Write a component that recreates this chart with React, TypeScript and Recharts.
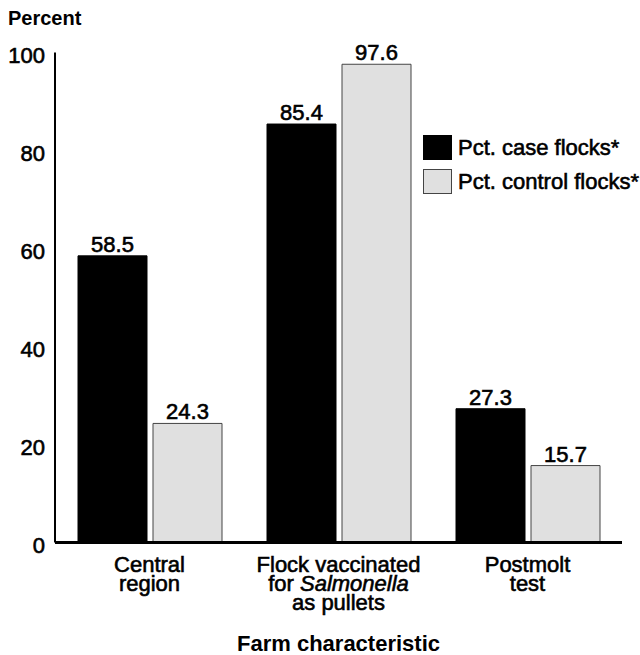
import React from 'react';
import { BarChart, Bar, XAxis, YAxis, LabelList, Label } from 'recharts';

const categories = ['Central region', 'Flock vaccinated for Salmonella as pullets', 'Postmolt test'];
const caseValues = [58.5, 85.4, 27.3];
const controlValues = [24.3, 97.6, 15.7];
const tickLines = [
  ['Central', 'region'],
  ['Flock vaccinated', 'for Salmonella', 'as pullets'],
  ['Postmolt', 'test'],
];
const italicWords = ['Salmonella'];
const yTicks = [0, 20, 40, 60, 80, 100];
const seriesNames = ['Pct. case flocks*', 'Pct. control flocks*'];
const yTitle = 'Percent';
const xTitle = 'Farm characteristic';

const data = categories.map((c, i) => ({
  category: c,
  caseFlocks: caseValues[i],
  controlFlocks: controlValues[i],
}));

const FONT = '"Liberation Sans", Arial, Helvetica, sans-serif';
const HEAVY = 0.6;

const seriesStyle = [
  { fill: '#000000', stroke: '#000000' },
  { fill: '#e0e0e0', stroke: '#444444' },
];

const renderLine = (line: string) => {
  const parts: React.ReactNode[] = [];
  const words = line.split(' ');
  words.forEach((w, i) => {
    if (italicWords.includes(w)) {
      if (i > 0) parts.push(<tspan key={'s' + i}> </tspan>);
      parts.push(
        <tspan key={i} fontStyle="italic">
          {w}
        </tspan>
      );
    } else {
      parts.push(<tspan key={i}>{(i > 0 ? ' ' : '') + w}</tspan>);
    }
  });
  return parts;
};

const XTick = (props: any) => {
  const { x, y, index } = props;
  const lines = tickLines[index] || [];
  return (
    <text textAnchor="middle" fontFamily={FONT} fontSize={22} fill="#000" stroke="#000" strokeWidth={HEAVY}>
      {lines.map((l, i) => (
        <tspan key={i} x={x} y={y + 29 + i * 19}>
          {renderLine(l)}
        </tspan>
      ))}
    </text>
  );
};

const YTick = (props: any) => {
  const { x, y, payload } = props;
  return (
    <text
      x={x}
      y={y + 3}
      dy="0.355em"
      textAnchor="end"
      fontFamily={FONT}
      fontSize={22}
      fill="#000"
      stroke="#000"
      strokeWidth={HEAVY}
    >
      {payload.value}
    </text>
  );
};

const ValueLabel = (props: any) => {
  const { x, y, width, value } = props;
  return (
    <text
      x={x + width / 2}
      y={y - 4}
      textAnchor="middle"
      fontFamily={FONT}
      fontSize={22}
      fill="#000"
      stroke="#000"
      strokeWidth={HEAVY}
    >
      {Number(value).toFixed(1)}
    </text>
  );
};

const LegendBox = () => (
  <div
    style={{
      position: 'absolute',
      left: 423,
      top: 135,
      fontFamily: FONT,
      fontSize: 22,
      color: '#000',
      WebkitTextStroke: `${HEAVY}px #000`,
    }}
  >
    {seriesNames.map((n, i) => (
      <div key={n} style={{ display: 'flex', alignItems: 'center', height: 25, marginBottom: 9, whiteSpace: 'nowrap' }}>
        <div
          style={{
            width: 27,
            height: 23,
            background: seriesStyle[i].fill,
            border: `1px solid ${seriesStyle[i].stroke}`,
            marginRight: 6,
            flex: '0 0 auto',
          }}
        />
        <span style={{ lineHeight: '25px' }}>{n}</span>
      </div>
    ))}
  </div>
);

const YTitle = () => (
  <text x={8} y={25} fontFamily={FONT} fontSize={20} fontWeight="bold" fill="#000">
    {yTitle}
  </text>
);

const XTitle = () => (
  <text x={338.5} y={651} textAnchor="middle" fontFamily={FONT} fontSize={22} fontWeight="bold" fill="#000">
    {xTitle}
  </text>
);

export default function App() {
  return (
    <div style={{ position: 'absolute', left: 0, top: 0, width: 640, height: 655, background: '#fff' }}>
      <BarChart
        width={640}
        height={655}
        data={data}
        margin={{ top: 52.5, right: 18, bottom: 0, left: 0 }}
        barSize={69}
        barGap={6}
      >
        <XAxis
          dataKey="category"
          height={112.5}
          axisLine={{ stroke: '#000', strokeWidth: 3 }}
          tickLine={false}
          tickSize={0}
          tickMargin={0}
          interval={0}
          tick={<XTick />}
        >
          <Label content={<XTitle />} />
        </XAxis>
        <YAxis
          width={55}
          domain={[0, 100]}
          ticks={yTicks}
          axisLine={{ stroke: '#000', strokeWidth: 2 }}
          tickLine={false}
          tickSize={0}
          tickMargin={10}
          tick={<YTick />}
        >
          <Label content={<YTitle />} />
        </YAxis>
        <Bar
          dataKey="caseFlocks"
          name={seriesNames[0]}
          fill={seriesStyle[0].fill}
          stroke={seriesStyle[0].stroke}
          strokeWidth={1}
          isAnimationActive={false}
        >
          <LabelList dataKey="caseFlocks" content={<ValueLabel />} />
        </Bar>
        <Bar
          dataKey="controlFlocks"
          name={seriesNames[1]}
          fill={seriesStyle[1].fill}
          stroke={seriesStyle[1].stroke}
          strokeWidth={1}
          isAnimationActive={false}
        >
          <LabelList dataKey="controlFlocks" content={<ValueLabel />} />
        </Bar>
      </BarChart>
      <LegendBox />
    </div>
  );
}
